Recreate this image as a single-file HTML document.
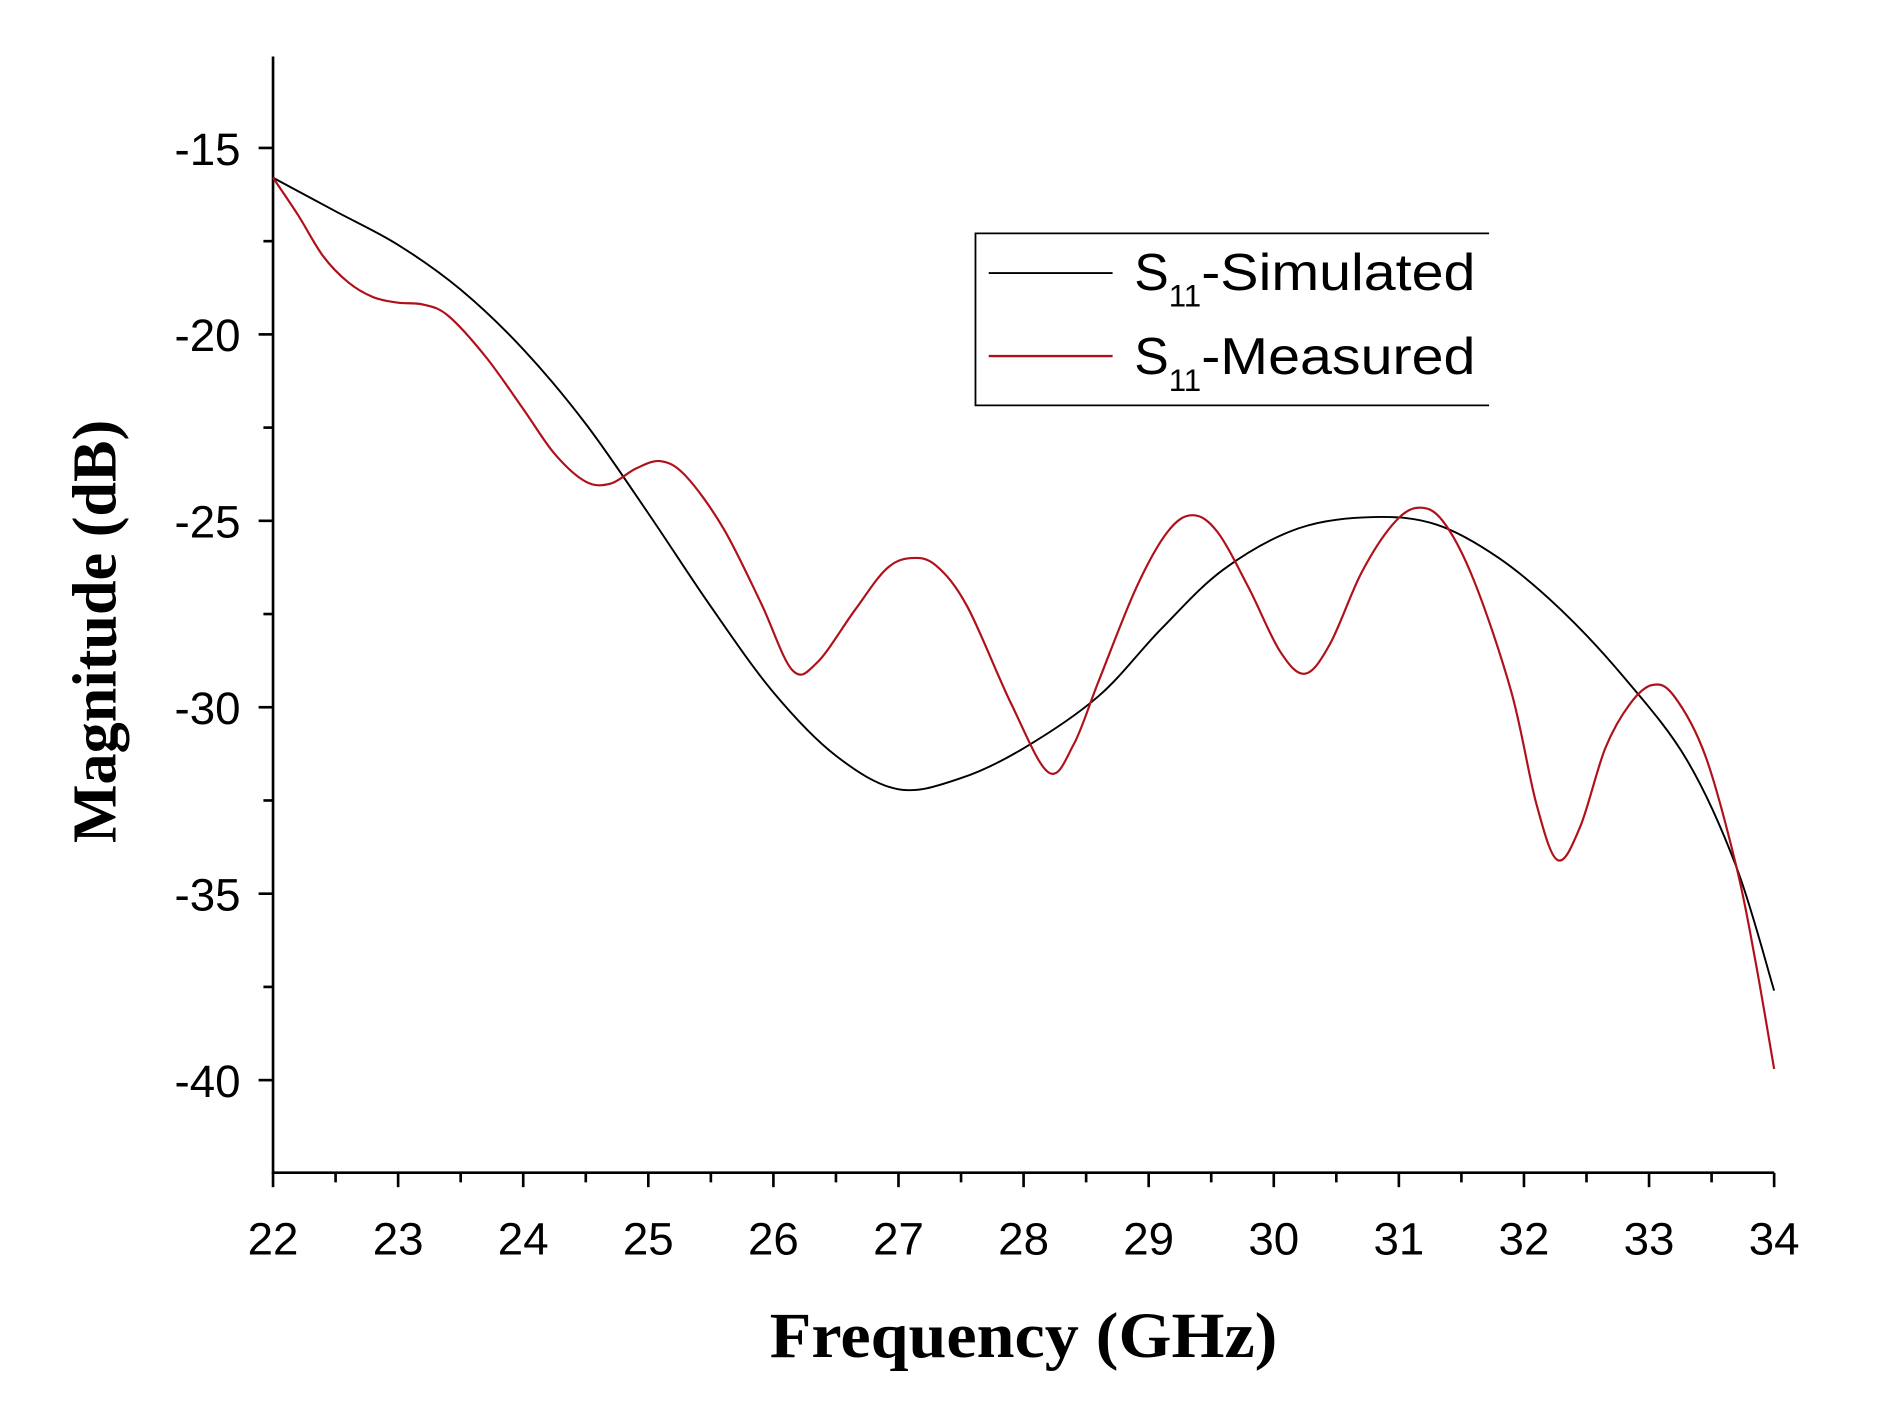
<!DOCTYPE html>
<html><head><meta charset="utf-8"><style>
html,body{margin:0;padding:0;background:#fff;}
svg{display:block;}
text{font-family:"Liberation Sans",sans-serif;}
</style></head><body>
<svg id="s" width="1886" height="1421" viewBox="0 0 1568 1181.4" xmlns="http://www.w3.org/2000/svg">
<rect width="1568" height="1182" fill="#fff"/>
<g stroke="#000" stroke-width="2.2" fill="none">
<line x1="227" y1="47" x2="227" y2="976"/>
<line x1="226" y1="975" x2="1475" y2="975"/>
<g id="yt"></g><g id="xt"></g>
</g>
<g font-size="38" text-anchor="end" fill="#000">
<text x="200" y="137">-15</text><text x="200" y="292">-20</text><text x="200" y="447">-25</text>
<text x="200" y="602">-30</text><text x="200" y="757">-35</text><text x="200" y="912">-40</text>
</g>
<g id="xl" font-size="38" text-anchor="middle" fill="#000"></g>
<text x="851" y="1128" text-anchor="middle" font-weight="bold" font-size="54" style="font-family:'Liberation Serif',serif" textLength="422" lengthAdjust="spacingAndGlyphs">Frequency (GHz)</text>
<text transform="translate(96,525) rotate(-90)" text-anchor="middle" font-weight="bold" font-size="52" style="font-family:'Liberation Serif',serif" textLength="352" lengthAdjust="spacingAndGlyphs">Magnitude (dB)</text>
<g stroke="#000" stroke-width="1.5" fill="none"><polyline points="1238,194 811,194 811,337 1238,337"/></g>
<line x1="822" y1="227" x2="925" y2="227" stroke="#000" stroke-width="1.6"/>
<line x1="822" y1="296" x2="925" y2="296" stroke="#b0101a" stroke-width="2"/>
<g font-size="43" fill="#000">
<text x="943" y="241">S<tspan font-size="26" dy="14">11</tspan><tspan dy="-14" textLength="228" lengthAdjust="spacingAndGlyphs">-Simulated</tspan></text>
<text x="943" y="311">S<tspan font-size="26" dy="14">11</tspan><tspan dy="-14" textLength="228" lengthAdjust="spacingAndGlyphs">-Measured</tspan></text>
</g>
<path id="sim" fill="none" stroke="#000" stroke-width="1.6"/>
<path id="mea" fill="none" stroke="#b0101a" stroke-width="1.8"/>
</svg>
<script>
var NS="http://www.w3.org/2000/svg";
function L(g,x1,y1,x2,y2){var l=document.createElementNS(NS,"line");l.setAttribute("x1",x1);l.setAttribute("y1",y1);l.setAttribute("x2",x2);l.setAttribute("y2",y2);g.appendChild(l);}
var yt=document.getElementById("yt"),xt=document.getElementById("xt"),xl=document.getElementById("xl");
for(var k=-1;k<=11;k++){var y=123+77.5*k;if(y<50||y>970)continue;L(yt,k%2==0?215:219,y,227,y);}
for(var k=0;k<=24;k++){var x=227+52*k;L(xt,x,975,x,k%2==0?987:983);
 if(k%2==0){var t=document.createElementNS(NS,"text");t.setAttribute("x",x);t.setAttribute("y",1043);t.textContent=22+k/2;xl.appendChild(t);}}
function X(f){return 227+104*(f-22);}function Y(d){return 123+31*(-15-d);}
function path(pts){var p=pts.map(function(a){return [X(a[0]),Y(a[1])];});var d="M"+p[0][0]+","+p[0][1];
for(var i=0;i<p.length-1;i++){var p0=p[i-1]||p[i],p1=p[i],p2=p[i+1],p3=p[i+2]||p2;
d+=" C"+(p1[0]+(p2[0]-p0[0])/6)+","+(p1[1]+(p2[1]-p0[1])/6)+" "+(p2[0]-(p3[0]-p1[0])/6)+","+(p2[1]-(p3[1]-p1[1])/6)+" "+p2[0]+","+p2[1];}return d;}
var sim=[[22,-15.8],[22.5,-16.7],[23,-17.6],[23.5,-18.8],[24,-20.4],[24.5,-22.4],[25,-24.8],[25.5,-27.3],[26,-29.6],[26.5,-31.3],[27.0,-32.2],[27.5,-31.9],[28.0,-31.1],[28.6,-29.7],[29.1,-27.9],[29.6,-26.3],[30.2,-25.2],[30.8,-24.9],[31.3,-25.1],[31.8,-26],[32.3,-27.4],[32.8,-29.2],[33.3,-31.4],[33.7,-34.3],[34,-37.6]];
var mea=[[22,-15.8],[22.2,-16.8],[22.4,-17.9],[22.6,-18.6],[22.8,-19.0],[23.0,-19.15],[23.2,-19.2],[23.4,-19.5],[23.7,-20.6],[24,-22],[24.25,-23.2],[24.5,-23.95],[24.7,-24.0],[24.9,-23.6],[25.1,-23.4],[25.3,-23.8],[25.6,-25.2],[25.9,-27.2],[26.15,-29.0],[26.35,-28.8],[26.65,-27.4],[26.9,-26.3],[27.1,-26.0],[27.3,-26.2],[27.55,-27.3],[27.9,-29.9],[28.2,-31.75],[28.4,-31.0],[28.6,-29.3],[28.9,-26.8],[29.15,-25.3],[29.35,-24.85],[29.55,-25.3],[29.8,-26.8],[30.05,-28.5],[30.25,-29.1],[30.45,-28.3],[30.7,-26.4],[30.95,-25.1],[31.15,-24.65],[31.35,-25.0],[31.6,-26.6],[31.9,-29.6],[32.1,-32.6],[32.27,-34.1],[32.45,-33.2],[32.65,-31.1],[32.85,-29.9],[33.03,-29.4],[33.2,-29.7],[33.45,-31.3],[33.7,-34.3],[33.85,-36.8],[34,-39.7]];
document.getElementById("sim").setAttribute("d",path(sim));
document.getElementById("mea").setAttribute("d",path(mea));
</script>
</body></html>
